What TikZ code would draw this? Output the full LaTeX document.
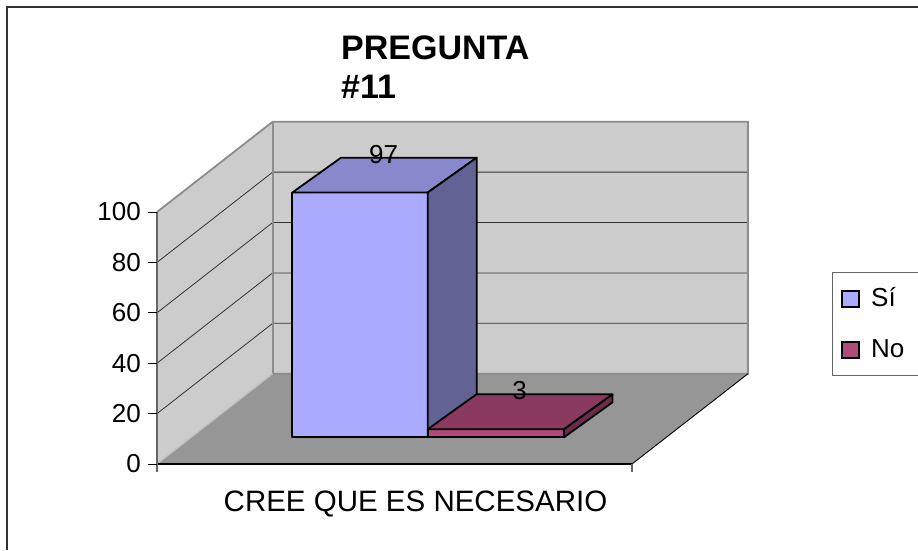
\documentclass[tikz,border=0pt]{standalone}
\usepackage{fontspec}
\setmainfont{Liberation Sans}
\usepackage{xcolor}
\usepackage{tikz}
\usetikzlibrary{positioning}

\definecolor{wallgray}{RGB}{204,204,204}
\definecolor{floorgray}{RGB}{150,150,150}
\definecolor{edgegray}{RGB}{140,140,140}
\definecolor{sifront}{RGB}{170,170,255}
\definecolor{sitop}{RGB}{136,136,204}
\definecolor{siside}{RGB}{98,98,148}
\definecolor{nofront}{RGB}{176,74,120}
\definecolor{notop}{RGB}{138,58,94}
\definecolor{noside}{RGB}{106,44,74}

\begin{document}
\begin{tikzpicture}[
    x=1pt, y=-1pt,
    wall/.style={fill=wallgray},
    wall edge/.style={draw=edgegray, line width=1.8pt},
    grid line/.style={draw=black!80, line width=0.8pt},
    tick/.style={draw=black, line width=0.9pt},
    bar face/.style={draw=black, line width=1.8pt, line join=round},
    tick label/.style={anchor=east, inner sep=0pt, font=\fontsize{26}{30}\selectfont},
    value label/.style={inner sep=0pt, font=\fontsize{26}{30}\selectfont},
    legend text/.style={anchor=base west, inner sep=0pt, font=\fontsize{26}{30}\selectfont},
    title/.style={anchor=base west, inner sep=0pt, font=\fontsize{34}{40}\selectfont\bfseries}
]

\useasboundingbox (0,0) rectangle (918,550);
\draw[line width=1.2pt, black!80] (7,550) -- (7,7) -- (918,7);

% walls and floor
\fill[wall] (157,464) -- (157,212) -- (272.7,121.7) -- (272.7,373.7) -- cycle;
\fill[wall] (272.7,121.7) rectangle (748,373.7);
\fill[floorgray] (157,464) -- (632,464) -- (748,373.7) -- (272.7,373.7) -- cycle;

\draw[grid line] (157,413.6) -- (272.7,323.3) -- (748,323.3);
\draw[grid line] (157,363.2) -- (272.7,272.9) -- (748,272.9);
\draw[grid line] (157,312.8) -- (272.7,222.5) -- (748,222.5);
\draw[grid line] (157,262.4) -- (272.7,172.1) -- (748,172.1);

\draw[wall edge] (157,212) -- (272.7,121.7) -- (748,121.7) -- (748,373.7) -- (272.7,373.7);
\draw[wall edge] (272.7,121.7) -- (272.7,373.7);
\draw[draw=black!25, line width=1.2pt] (157,464) -- (272.7,373.7);
\draw[line width=0.9pt] (632,464) -- (748,373.7);
\draw[line width=1.2pt] (157,464) -- (632,464);
\draw[draw=black!60, line width=1.5pt] (157,212) -- (157,472);
\draw[draw=black!60, line width=1.2pt] (632,464) -- (632,472);

% value axis
\draw[tick] (148,464) -- (157,464);
\draw[tick] (148,413.6) -- (157,413.6);
\draw[tick] (148,363.2) -- (157,363.2);
\draw[tick] (148,312.8) -- (157,312.8);
\draw[tick] (148,262.4) -- (157,262.4);
\draw[tick] (148,212) -- (157,212);

\node[tick label] (lbl0) at (141,464) {0};
\node[tick label] (lbl20) at (141,413.6) {20};
\node[tick label] (lbl40) at (141,363.2) {40};
\node[tick label] (lbl60) at (141,312.8) {60};
\node[tick label] (lbl80) at (141,262.4) {80};
\node[tick label] (lbl100) at (141,212) {100};

% bars
\filldraw[bar face, fill=sifront] (292.3,192.5) rectangle (427.7,436.7);
\filldraw[bar face, fill=sitop] (292.3,192.5) -- (341,157.7) -- (476.7,157.7) -- (427.7,192.5) -- cycle;
\filldraw[bar face, fill=siside] (427.7,192.5) -- (476.7,157.7) -- (476.7,402) -- (427.7,436.7) -- cycle;

\filldraw[bar face, fill=nofront] (427.7,429.3) rectangle (564,437.3);
\filldraw[bar face, fill=notop] (427.7,429.3) -- (476.4,394.3) -- (612.5,394.3) -- (564,429.3) -- cycle;
\filldraw[bar face, fill=noside] (564,429.3) -- (612.5,394.3) -- (612.5,402.3) -- (564,437.3) -- cycle;

\node[value label] (valsi) at (383.5,155) {97};
\node[value label] (valno) at (519.5,390.5) {3};

% titles
\node[title] (title) at (341,59) {PREGUNTA};
\node[title] (titlenum) at (341,98.5) {\#11};
\node[inner sep=0pt, anchor=base, font=\fontsize{29.5}{34}\selectfont] (category) at (415.5,511) {CREE QUE ES NECESARIO};

% legend
\draw[draw=black!60, line width=1pt] (918,272) -- (832.3,272) -- (832.3,375) -- (918,375);
\filldraw[draw=black, line width=1.5pt, fill=sifront] (842,291) rectangle (859,307);
\filldraw[draw=black, line width=1.5pt, fill=nofront] (842,342) rectangle (859,358);
\node[legend text] (legsi) at (871,306) {Sí};
\node[legend text] (legno) at (871,357) {No};

\end{tikzpicture}
\end{document}
